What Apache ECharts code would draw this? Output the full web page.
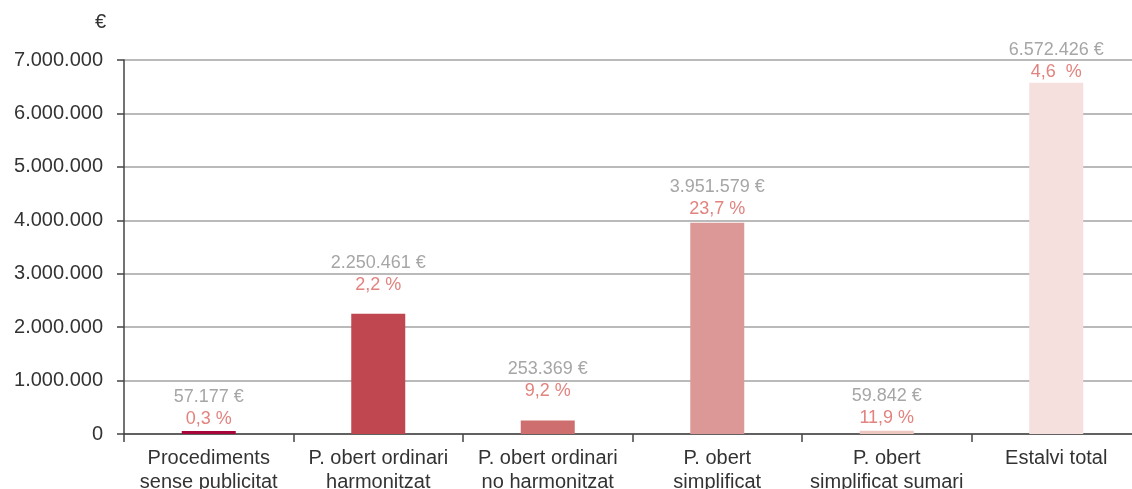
<!DOCTYPE html>
<html>
<head>
<meta charset="utf-8">
<script src="https://cdn.jsdelivr.net/npm/echarts@6/dist/echarts.min.js"></script>
<style>
  html, body { margin: 0; padding: 0; background: #fff; }
  #main { width: 1132px; height: 489px; }
</style>
</head>
<body>
<div id="main"></div>
<script>
var categories = ['Procediments\nsense publicitat', 'P. obert ordinari\nharmonitzat', 'P. obert ordinari\nno harmonitzat', 'P. obert\nsimplificat', 'P. obert\nsimplificat sumari', 'Estalvi total'];
var savings = [57177, 2250461, 253369, 3951579, 59842, 6572426];
var percents = ['0,3 %', '2,2 %', '9,2 %', '23,7 %', '11,9 %', '4,6  %'];
var colors = ['#a8063b', '#c04650', '#cf6e6e', '#dc9896', '#efc7c1', '#f5e0de'];

function fmt(n) {
    return String(n).replace(/\B(?=(\d{3})+(?!\d))/g, '.');
}

var FONT = '"Liberation Sans", Arial, sans-serif';

function init() {
    var myChart = echarts.init(document.getElementById('main'));
    // gap between bar top and its label, as in the original layout
    var labelDistance = [1, 18, 18, 3, 2, 0];
    var data = savings.map(function (v, i) {
        return {
            value: v,
            itemStyle: { color: colors[i] },
            label: { distance: labelDistance[i] }
        };
    });
    option = {
        animation: false,
        grid: { left: 124, top: 60, width: 1017, height: 374, outerBoundsMode: 'none', containLabel: false },
        xAxis: {
            type: 'category',
            data: categories,
            axisLine: { lineStyle: { color: '#444', width: 1.5 } },
            axisTick: { show: true, length: 8, lineStyle: { color: '#444', width: 1.5 } },
            axisLabel: {
                interval: 0,
                color: '#333',
                fontSize: 20,
                fontFamily: FONT,
                lineHeight: 24,
                margin: 12
            }
        },
        yAxis: {
            type: 'value',
            min: 0,
            max: 7000000,
            interval: 1000000,
            name: '€',
            nameLocation: 'end',
            nameGap: 28,
            nameTextStyle: { color: '#333', fontSize: 20, fontFamily: FONT, align: 'right', padding: [0, 18, 0, 0] },
            axisLine: { show: true, lineStyle: { color: '#444', width: 1.5 } },
            axisTick: { show: true, length: 7, lineStyle: { color: '#444', width: 1.5 } },
            splitLine: { lineStyle: { color: '#a3a3a3', width: 1.5 } },
            axisLabel: {
                color: '#333',
                fontSize: 20,
                fontFamily: FONT,
                margin: 21,
                formatter: function (v) { return fmt(v); }
            }
        },
        series: [
            {
                type: 'bar',
                barWidth: 54,
                data: data,
                label: {
                    show: true,
                    position: 'top',
                    distance: 18,
                    formatter: function (p) {
                        return '{a|' + fmt(p.value) + ' €}\n{b|' + percents[p.dataIndex] + '}';
                    },
                    rich: {
                        a: { color: '#a6a6a6', fontSize: 18, fontFamily: FONT, lineHeight: 22 },
                        b: { color: '#e2837f', fontSize: 18, fontFamily: FONT, lineHeight: 22 }
                    }
                }
            }
        ]
    };
    myChart.setOption(option);
}
init();
</script>
</body>
</html>
